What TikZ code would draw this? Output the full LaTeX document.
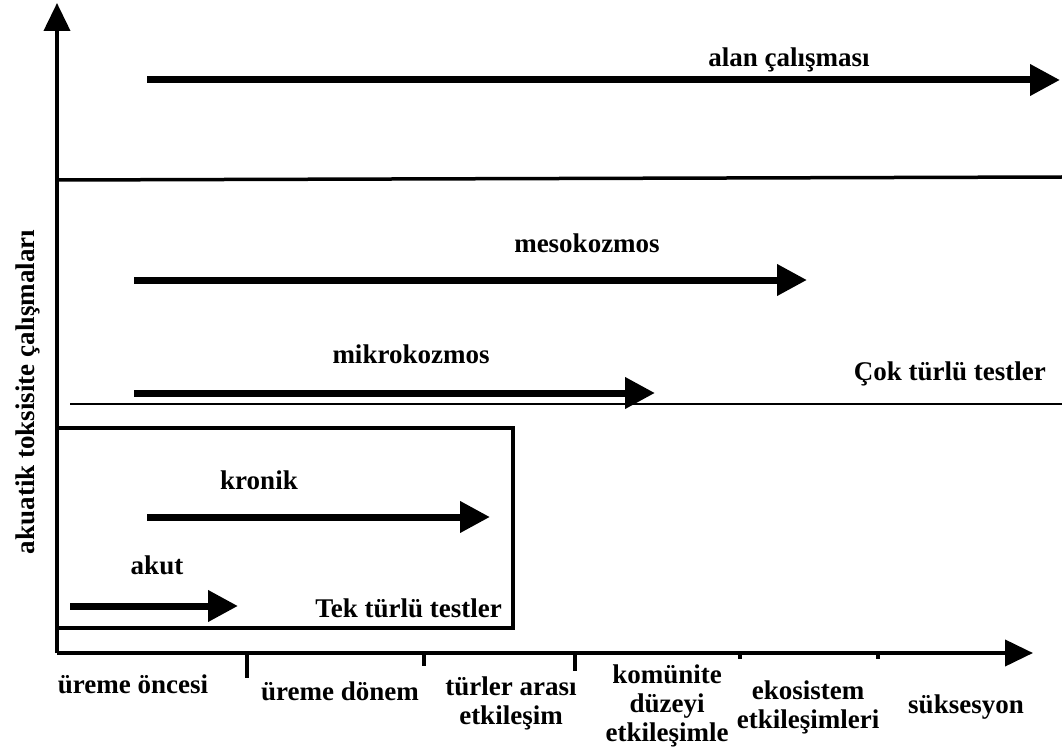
\documentclass[tikz,border=0pt]{standalone}
\usepackage{fontspec}
\setmainfont{Liberation Serif}
\usepackage{tikz}
\usetikzlibrary{arrows.meta}
\tikzset{
	lbl/.style={font=\bfseries\fontsize{27}{29}\selectfont, inner sep=0pt, align=center},
	fatarrow/.style={-{Triangle[length=30pt, width=30pt]}, line width=7pt},
	axisline/.style={-{Triangle[length=28pt, width=26pt]}, line width=4pt}
}

\begin{document}
\begin{tikzpicture}[x=1pt, y=-1pt]
				\useasboundingbox (0,0) rectangle (1062,751);
				% axes
				\coordinate (o) at (57,653);
				\coordinate (ytop) at (57,3);
				\coordinate (xend) at (1033,653);
				\draw[axisline] (o) -- (ytop);
				\draw[axisline] (o) -- (xend);
				\foreach \x/\len in {247/25, 424/13, 575/18, 740/6, 878/6}
					\draw[line width=4pt] (\x,653) -- ++(0,\len);
				
				% separating lines and box
				\draw[line width=3.5pt] (57,180) -- (1062,177);
				\draw[line width=2pt] (70,404) -- (1062,404);
				\draw[line width=3.5pt] (57,428) rectangle (513,628);
				
				% arrows
				\coordinate (alanA) at (147,80);   \coordinate (alanB) at (1060,80);
				\coordinate (mesoA) at (134,280);  \coordinate (mesoB) at (807,280);
				\coordinate (mikroA) at (134,393); \coordinate (mikroB) at (655,393);
				\coordinate (kronA) at (147,517);  \coordinate (kronB) at (490,517);
				\coordinate (akutA) at (70,606);   \coordinate (akutB) at (238,606);
				\draw[fatarrow] (alanA) -- (alanB);
				\draw[fatarrow] (mesoA) -- (mesoB);
				\draw[fatarrow] (mikroA) -- (mikroB);
				\draw[fatarrow] (kronA) -- (kronB);
				\draw[fatarrow] (akutA) -- (akutB);
				
				% labels
				\node[lbl, anchor=base] (alan) at (789,67) {alan çalışması};
				\node[lbl, anchor=base] (meso) at (587,252) {mesokozmos};
				\node[lbl, anchor=base] (mikro) at (411,363) {mikrokozmos};
				\node[lbl, anchor=base east] (cok) at (1046,380) {Çok türlü testler};
				\node[lbl, anchor=base] (kronik) at (259,489) {kronik};
				\node[lbl, anchor=base] (akut) at (157,574) {akut};
				\node[lbl, anchor=base east] (tek) at (502,617) {Tek türlü testler};
				\node[lbl, anchor=base, rotate=90] (ylab) at (34,392) {akuatik toksisite çalışmaları};
				
				% stages on the x axis (base = last line)
				\node[lbl, anchor=base] (s1) at (133,693) {üreme öncesi};
				\node[lbl, anchor=base] (s2) at (340,700) {üreme dönem};
				\node[lbl, anchor=base] (s3) at (511,724) {türler arası\\etkileşim};
				\node[lbl, anchor=base] (s4) at (667,741) {komünite\\düzeyi\\etkileşimle};
				\node[lbl, anchor=base] (s5) at (808,728) {ekosistem\\etkileşimleri};
				\node[lbl, anchor=base] (s6) at (966,713) {süksesyon};
			\end{tikzpicture}
\end{document}
